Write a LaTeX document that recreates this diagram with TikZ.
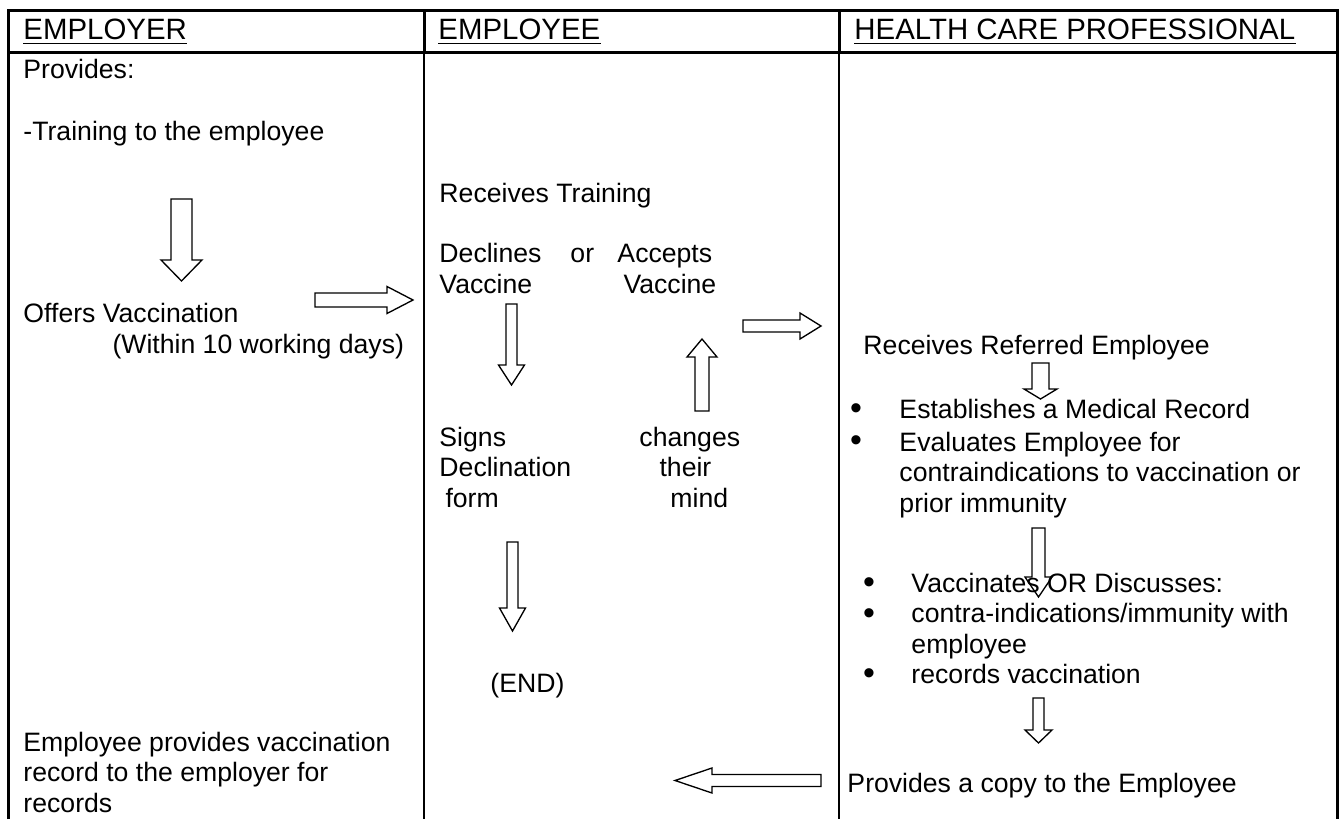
\documentclass[tikz,border=0pt]{standalone}
\usepackage{fontspec}
\setmainfont{Liberation Sans}
\usetikzlibrary{calc}

% hollow block arrow: tail, tip, shaft half width, head half width, head length
\newcommand{\hollowarrow}[5]{%
  \coordinate (ahb) at ($(#2)!#5!(#1)$);
  \draw[blockarrow] ($(#1)!#3!90:(#2)$) -- ($(ahb)!#3!-90:(#1)$) -- ($(ahb)!#4!-90:(#1)$)
    -- (#2) -- ($(ahb)!#4!90:(#1)$) -- ($(ahb)!#3!90:(#1)$) -- ($(#1)!#3!-90:(#2)$) -- cycle;}

% multi-line nodes sit on the baseline of their last line
\tikzset{
  txt/.style={anchor=base west, inner sep=0pt, align=left, font=\fontsize{11}{12.4}\selectfont},
  hdr/.style={anchor=base west, inner sep=0pt, font=\fontsize{12.15}{14}\selectfont},
  bul/.style={anchor=base, inner sep=0pt, font=\fontsize{14}{14}\selectfont},
  outerrule/.style={line width=1.24pt},
  tablerule/.style={line width=0.83pt},
  uline/.style={line width=0.8pt},
  blockarrow/.style={line width=0.55pt, line join=miter},
}

\begin{document}
\begin{tikzpicture}[x=0.4132pt, y=-0.4132pt]
  \useasboundingbox (0,0) rectangle (1341,819);
  % table
  \draw[outerrule] (8.5,819) -- (8.5,10.5) -- (1337,10.5) -- (1337,819);
  \draw[outerrule] (8.5,52.5) -- (1337,52.5);
  \draw[outerrule] (424,10.5) -- (424,52.5);
  \draw[outerrule] (839,10.5) -- (839,52.5);
  \draw[tablerule] (424,52.5) -- (424,819);
  \draw[tablerule] (839,52.5) -- (839,819);

  \node[hdr] (hdEmployer) at (23,40) {EMPLOYER};
  \node[hdr] (hdEmployee) at (438,40) {EMPLOYEE};
  \node[hdr] (hdHcp) at (854,40) {HEALTH CARE PROFESSIONAL};
  \foreach \h in {hdEmployer, hdEmployee, hdHcp}
    \draw[uline] ([yshift=-1.45pt]\h.base west) -- ([yshift=-1.45pt]\h.base east);

  % employer
  \node[txt] (provides) at (23,79) {Provides:};
  \node[txt] (training) at (23,141) {-Training to the employee};
  \node[txt] (offers) at (23,353) {Offers Vaccination\\\hspace*{36.8pt}(Within 10 working days)};
  \node[txt] (empRecord) at (23,812) {Employee provides vaccination\\record to the employer for\\records};

  % employee
  \node[txt] (recTraining) at (439,202) {Receives Training};
  \node[txt] (declines) at (439,293) {Declines\\Vaccine};
  \node[txt] (orWord) at (570,262) {or};
  \node[txt] (accepts) at (617,293) {Accepts\\\hspace*{2.5pt}Vaccine};
  \node[txt] (signs) at (439,507) {Signs\\Declination\\\hspace*{2.5pt}form};
  \node[txt] (changes) at (639,507) {changes\\\hspace*{8.3pt}their\\\hspace*{12.8pt}mind};
  \node[txt] (endNode) at (490,692) {(END)};

  % health care professional
  \node[txt] (referred) at (863,354) {Receives Referred Employee};
  \node[bul] (b1) at (856,419) {•};
  \node[bul] (b2) at (856,451) {•};
  \node[txt] (establish) at (899,418) {Establishes a Medical Record};
  \node[txt] (evaluate) at (899,512) {Evaluates Employee for\\contraindications to vaccination or\\prior immunity};
  \node[bul] (b3) at (869,593) {•};
  \node[bul] (b4) at (869,624) {•};
  \node[bul] (b5) at (869,684) {•};
  \node[txt] (vaccinates) at (911,592) {Vaccinates OR Discusses:};
  \node[txt] (contra) at (911,653) {contra-indications/immunity with\\employee};
  \node[txt] (recVacc) at (911,683) {records vaccination};
  \node[txt] (copy) at (847,792) {Provides a copy to the Employee};

  % arrow ends
  \coordinate (a1t) at (181.5,199);  \coordinate (a1h) at (181.5,281);
  \coordinate (a2t) at (315,300);    \coordinate (a2h) at (413,300);
  \coordinate (a3t) at (511.5,304);  \coordinate (a3h) at (511.5,385);
  \coordinate (a4t) at (702,411);    \coordinate (a4h) at (702,339);
  \coordinate (a5t) at (743,326);    \coordinate (a5h) at (821,326);
  \coordinate (a6t) at (512.5,542);  \coordinate (a6h) at (512.5,631);
  \coordinate (a7t) at (821,780.5);  \coordinate (a7h) at (675,780.5);
  \coordinate (a8t) at (1040.5,363); \coordinate (a8h) at (1040.5,399);
  \coordinate (a9t) at (1038.5,528); \coordinate (a9h) at (1038.5,597);
  \coordinate (a10t) at (1038.5,698); \coordinate (a10h) at (1038.5,743);

  \hollowarrow{a1t}{a1h}{4.34pt}{8.47pt}{8.68pt}
  \hollowarrow{a2t}{a2h}{2.89pt}{5.58pt}{10.74pt}
  \hollowarrow{a3t}{a3h}{2.27pt}{5.37pt}{8.26pt}
  \hollowarrow{a4t}{a4h}{2.89pt}{6.2pt}{7.44pt}
  \hollowarrow{a5t}{a5h}{2.48pt}{5.37pt}{8.68pt}
  \hollowarrow{a6t}{a6h}{2.27pt}{5.37pt}{9.5pt}
  \hollowarrow{a7t}{a7h}{2.48pt}{5.17pt}{15.3pt}
  \hollowarrow{a8t}{a8h}{3.51pt}{6.82pt}{4.13pt}
  \hollowarrow{a9t}{a9h}{2.69pt}{5.58pt}{8.26pt}
  \hollowarrow{a10t}{a10h}{2.27pt}{5.58pt}{5.37pt}
\end{tikzpicture}
\end{document}
